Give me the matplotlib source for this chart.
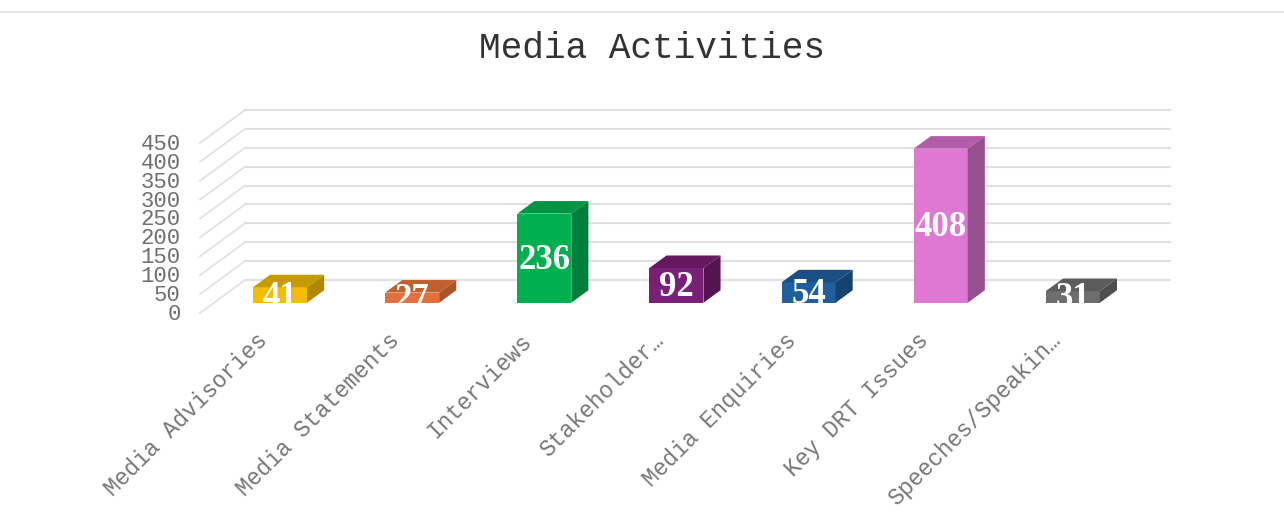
import matplotlib
matplotlib.use('Agg')
import matplotlib.pyplot as plt
from matplotlib.patches import Polygon
from matplotlib.lines import Line2D

categories = ['Media Advisories', 'Media Statements', 'Interviews', 'Stakeholder\u2026',
              'Media Enquiries', 'Key DRT Issues', 'Speeches/Speakin\u2026']
values = [41, 27, 236, 92, 54, 408, 31]
yticks = [0, 50, 100, 150, 200, 250, 300, 350, 400, 450]

front_colors = ['#F6BC00', '#E2703A', '#00B050', '#7A1F78', '#1F5F9E', '#DE78D2', '#6E6E6E']
top_colors = ['#C79A00', '#C0602F', '#009545', '#65175F', '#194F85', '#B25DA8', '#5C5C5C']
side_colors = ['#B08800', '#AA5429', '#007F3B', '#551350', '#15426F', '#955090', '#4D4D4D']

MONO = 'Liberation Mono'
GRID = '#E0E0E0'

fig = plt.figure(figsize=(12.84, 5.15), dpi=100)
ax = fig.add_axes([245 / 1284, (515 - 280) / 515, 925 / 1284, 170 / 515])
ax.set_xlim(-0.5, 6.5)
ax.set_ylim(0, 450)
ax.axis('off')

# depth of the chart box, in data units of the back wall
depth_x = 45 / (925 / 7)
depth_y = 33 / (170 / 450)
half_w = 27 / (925 / 7)
z_front = 0.69
z_back = 0.31


def project(x, y, z):
    return x - depth_x * z, y - depth_y * z


# back wall lines and the slanted lines on the left wall
for t in yticks:
    ax.add_line(Line2D([-0.5, 6.5], [t, t], color=GRID, lw=1.5, zorder=1, clip_on=False))
    x0, y0 = project(-0.5, t, 1)
    ax.add_line(Line2D([x0, -0.5], [y0, t], color=GRID, lw=1.2, zorder=1, clip_on=False))
    ax.annotate(str(t), (x0, y0), xytext=(-14, -1), textcoords='offset points',
                ha='right', va='center', family=MONO, fontsize=16, color='#6F6F6F',
                annotation_clip=False)

for i, v in enumerate(values):
    l, r = i - half_w, i + half_w
    fl = project(l, 0, z_front)
    fr = project(r, 0, z_front)
    tl = project(l, v, z_front)
    tr = project(r, v, z_front)
    bl = project(l, v, z_back)
    br = project(r, v, z_back)
    sb = project(r, 0, z_back)
    ax.add_patch(Polygon([fl, fr, tr, tl], fc=front_colors[i], ec='none', zorder=3, clip_on=False))
    ax.add_patch(Polygon([tl, tr, br, bl], fc=top_colors[i], ec='none', zorder=3, clip_on=False))
    ax.add_patch(Polygon([fr, sb, br, tr], fc=side_colors[i], ec='none', zorder=3, clip_on=False))

    cx = (fl[0] + fr[0]) / 2
    ax.annotate(str(v), (cx, (fl[1] + tl[1]) / 2), xytext=(0, -1.5), textcoords='offset points',
                ha='center', va='center', color='white', family='Liberation Serif',
                fontsize=25, fontweight='bold', zorder=4, annotation_clip=False)

    ax.annotate(categories[i], (cx, fl[1]), xytext=(-11.5, -24.5), textcoords='offset points',
                rotation=45, rotation_mode='anchor', ha='right', va='center',
                family=MONO, fontsize=16.5, color='#777777', annotation_clip=False)

fig.text(652 / 1284, 1 - 48 / 515, 'Media Activities', ha='center', va='center',
         family=MONO, fontsize=26, color='#333333')
fig.add_artist(Line2D([0, 1], [1 - 12 / 515, 1 - 12 / 515], color='#E4E4E4', lw=1.2))

fig.savefig('out.png', dpi=100)
plt.close(fig)
